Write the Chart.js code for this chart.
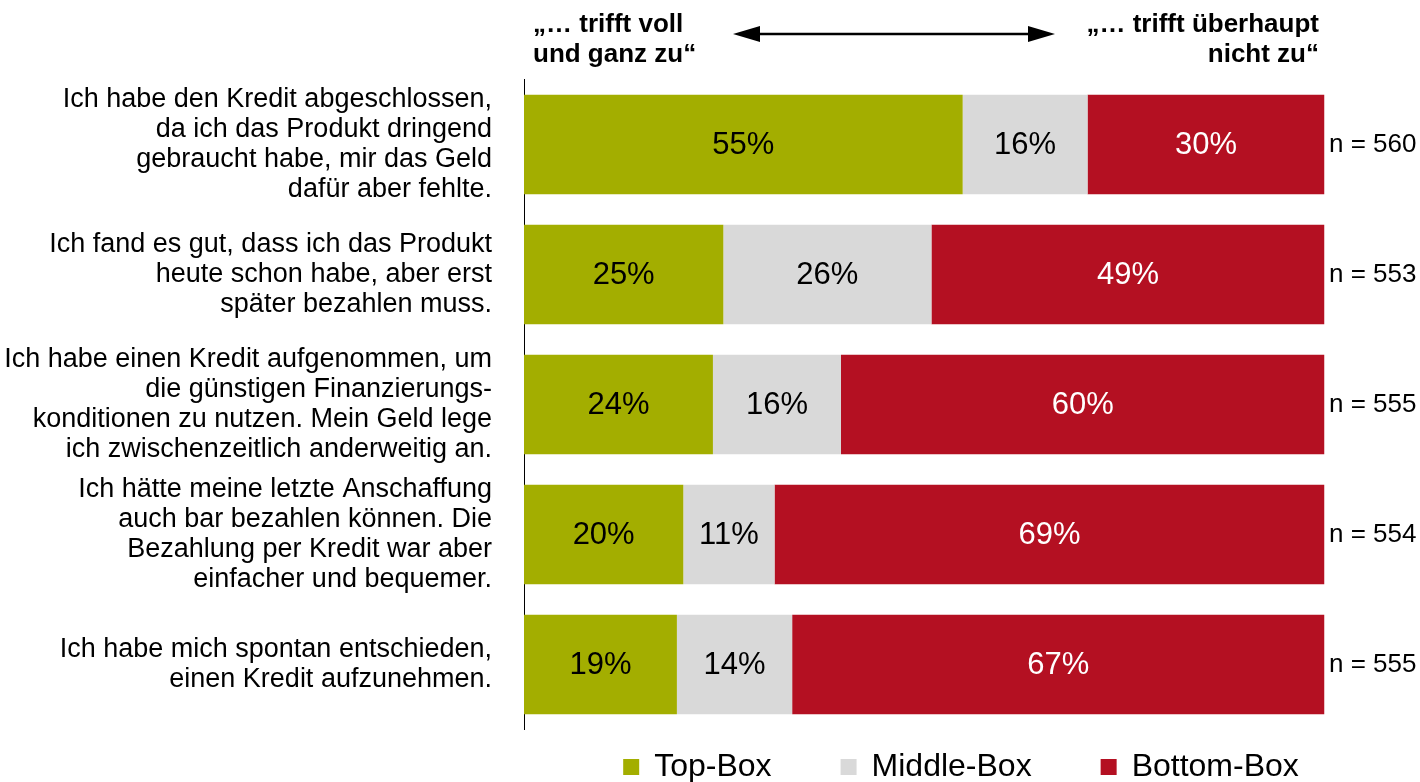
<!DOCTYPE html>
<html lang="de">
<head>
<meta charset="utf-8">
<title>Gründe für den Kredit</title>
<script src="https://cdn.jsdelivr.net/npm/chart.js@4.4.1/dist/chart.umd.min.js"></script>
<style>
    html, body { margin: 0; padding: 0; background: #fff; }
    #chart { display: block; }
</style>
</head>
<body>
<canvas id="chart" width="1420" height="782"></canvas>
<script>
const categories = [
    ['Ich habe den Kredit abgeschlossen,', 'da ich das Produkt dringend', 'gebraucht habe, mir das Geld', 'dafür aber fehlte.'],
    ['Ich fand es gut, dass ich das Produkt', 'heute schon habe, aber erst', 'später bezahlen muss.'],
    ['Ich habe einen Kredit aufgenommen, um', 'die günstigen Finanzierungs-', 'konditionen zu nutzen. Mein Geld lege', 'ich zwischenzeitlich anderweitig an.'],
    ['Ich hätte meine letzte Anschaffung', 'auch bar bezahlen können. Die', 'Bezahlung per Kredit war aber', 'einfacher und bequemer.'],
    ['Ich habe mich spontan entschieden,', 'einen Kredit aufzunehmen.']
];
const sampleSizes = ['n = 560', 'n = 553', 'n = 555', 'n = 554', 'n = 555'];
const seriesNames = ['Top-Box', 'Middle-Box', 'Bottom-Box'];
const topBox = [54.8, 24.9, 23.6, 19.9, 19.1];
const middleBox = [15.6, 26.0, 16.0, 11.4, 14.4];
const bottomBox = [29.6, 49.1, 60.4, 68.7, 66.5];
const headerLeft = ['„… trifft voll', 'und ganz zu“'];
const headerRight = ['„… trifft überhaupt', 'nicht zu“'];

const colors = ['#A3AE00', '#D9D9D9', '#B41022'];
const FONT = '"Liberation Sans", Arial, sans-serif';

// percent values in the middle of each segment
const valueLabels = {
    id: 'valueLabels',
    afterDatasetsDraw(chart) {
        const ctx = chart.ctx;
        ctx.save();
        ctx.font = '31px ' + FONT;
        ctx.textAlign = 'center';
        ctx.textBaseline = 'middle';
        chart.data.datasets.forEach((ds, i) => {
            const meta = chart.getDatasetMeta(i);
            ctx.fillStyle = i === 2 ? '#fff' : '#000';
            meta.data.forEach((bar, j) => {
                ctx.fillText(Math.round(ds.data[j]) + '%', (bar.x + bar.base) / 2, bar.y + 1);
            });
        });
        ctx.restore();
    }
};

// header with the double arrow, and the legend underneath
const decorations = {
    id: 'decorations',
    afterDraw(chart) {
        const ctx = chart.ctx;
        ctx.save();
        ctx.fillStyle = '#000';
        ctx.strokeStyle = '#000';
        ctx.textBaseline = 'alphabetic';

        ctx.font = 'bold 26px ' + FONT;
        ctx.textAlign = 'left';
        ctx.fillText(headerLeft[0], 533, 32);
        ctx.fillText(headerLeft[1], 533, 62);
        ctx.textAlign = 'right';
        ctx.fillText(headerRight[0], 1319, 32);
        ctx.fillText(headerRight[1], 1319, 62);

        ctx.lineWidth = 2.5;
        ctx.beginPath();
        ctx.moveTo(755, 34);
        ctx.lineTo(1033, 34);
        ctx.stroke();
        ctx.beginPath();
        ctx.moveTo(733, 34);
        ctx.lineTo(760, 26);
        ctx.lineTo(760, 42);
        ctx.closePath();
        ctx.fill();
        ctx.beginPath();
        ctx.moveTo(1055, 34);
        ctx.lineTo(1028, 26);
        ctx.lineTo(1028, 42);
        ctx.closePath();
        ctx.fill();

        ctx.font = '32px ' + FONT;
        ctx.textAlign = 'left';
        const widths = chart.data.datasets.map(ds => 31 + ctx.measureText(ds.label).width);
        const total = widths.reduce((a, b) => a + b, 0) + 69 * (widths.length - 1);
        let x = 961 - total / 2;
        chart.data.datasets.forEach((ds, i) => {
            ctx.fillStyle = ds.backgroundColor;
            ctx.fillRect(x, 759, 16, 16);
            ctx.fillStyle = '#000';
            ctx.fillText(ds.label, x + 31, 776);
            x += widths[i] + 69;
        });
        ctx.restore();
    }
};

// fixed axis widths, and no extra room for the tall multi-line labels
function fixWidth(width) {
    return scale => {
        scale.width = width;
        scale.paddingTop = 0;
        scale.paddingBottom = 0;
    };
}

new Chart(document.getElementById('chart'), {
    type: 'bar',
    data: {
        labels: categories,
        datasets: [
            {label: seriesNames[0], data: topBox, backgroundColor: colors[0]},
            {label: seriesNames[1], data: middleBox, backgroundColor: colors[1]},
            {label: seriesNames[2], data: bottomBox, backgroundColor: colors[2]}
        ]
    },
    options: {
        indexAxis: 'y',
        responsive: false,
        animation: false,
        devicePixelRatio: 1,
        layout: {padding: {left: 0, right: 0, top: 79.5, bottom: 52.5}},
        datasets: {bar: {barPercentage: 1, categoryPercentage: 0.765}},
        plugins: {
            legend: {display: false},
            tooltip: {enabled: false}
        },
        scales: {
            x: {stacked: true, min: 0, max: 100, display: false},
            y: {
                stacked: true,
                z: 1,
                afterFit: fixWidth(524),
                grid: {display: false, drawTicks: false},
                border: {display: true, color: '#000', width: 1},
                ticks: {
                    autoSkip: false,
                    color: '#000',
                    padding: 32,
                    font: {family: FONT, size: 27, lineHeight: '30px'}
                }
            },
            y2: {
                type: 'category',
                position: 'right',
                labels: sampleSizes,
                offset: true,
                afterFit: fixWidth(95.5),
                grid: {display: false, drawTicks: false},
                border: {display: false},
                ticks: {
                    autoSkip: false,
                    color: '#000',
                    padding: 4.5,
                    font: {family: FONT, size: 26}
                }
            }
        }
    },
    plugins: [valueLabels, decorations]
});
</script>
</body>
</html>
